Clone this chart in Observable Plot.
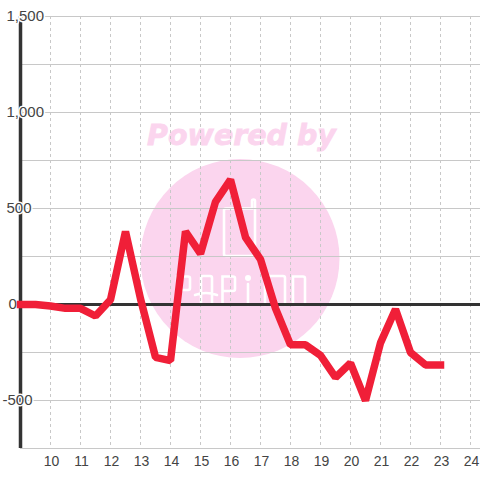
<!DOCTYPE html>
<html>
<head>
<meta charset="utf-8">
<style>html,body{margin:0;padding:0;background:#fff}svg{display:block}</style>
<script src="https://cdn.jsdelivr.net/npm/d3@7"></script>
<script src="https://cdn.jsdelivr.net/npm/@observablehq/plot@0.6"></script>
</head>
<body>
<script>
const hours = [9,9.5,10,10.5,11,11.5,12,12.5,13,13.5,14,14.5,15,15.5,16,16.5,17,17.5,18,18.5,19,19.5,20,20.5,21,21.5,22,22.5,23];
const values = [0,0,-8,-20,-20,-60,25,380,30,-275,-292,380,265,535,650,350,235,-20,-210,-210,-265,-380,-305,-500,-200,-25,-250,-315,-315];
const xTicks = [10,11,12,13,14,15,16,17,18,19,20,21,22,23,24];
const yGrid = [1500,1250,1000,750,500,250,-250,-500,-750];
const yLabels = [1500,1000,500,0,-500];
const series = hours.map((h,i)=>({h, v: values[i]}));
const fmt = d3.format(",");

function watermark() {
  const NS = "http://www.w3.org/2000/svg";
  const g = document.createElementNS(NS, "g");
  const add = (tag, attrs, text) => {
    const el = document.createElementNS(NS, tag);
    for (const k in attrs) el.setAttribute(k, attrs[k]);
    if (text) el.textContent = text;
    g.appendChild(el);
  };
  add("circle", {cx:240, cy:258.5, r:99.5, fill:"#fbd5ee"});
  add("text", {x:241.5, y:145, "text-anchor":"middle", fill:"#fbd5ee", stroke:"#fbd5ee", "stroke-width":0.8,
    "font-family":"DejaVu Sans", "font-weight":"bold", "font-style":"italic", "font-size":28.5}, "Powered by");
  add("path", {d:"M233 208.5H226a2 2 0 0 0 -2 2V254a2 2 0 0 0 2 2H253a2 2 0 0 0 2 -2V201a1.5 1.5 0 0 0 -3 0V208.5H233",
    fill:"none", stroke:"#fff", "stroke-width":2.6});
  // PAPiNO logotype, drawn as single-stroke letters
  add("path", {d:[
      "M177 304V276.5H188a2 2 0 0 1 2 2V288a2 2 0 0 1 -2 2H178",
      "M201 303V278a2 2 0 0 1 2 -2H210a2 2 0 0 1 2 2V303",
      "M195 295Q206 291 217 295",
      "M222.5 304V276.5H233a2 2 0 0 1 2 2V289a2 2 0 0 1 -2 2H223",
      "M248 284V305",
      "M265 305V278a2 2 0 0 1 2 -2H283a2 2 0 0 1 2 2V305",
      "M293 276.5H303a2 2 0 0 1 2 2V303a2 2 0 0 1 -2 2H295a2 2 0 0 1 -2 -2Z"
    ].join(""), fill:"none", stroke:"#fff", "stroke-width":2.6, "stroke-linecap":"round"});
  add("circle", {cx:248, cy:278, r:3, fill:"#fff"});
  return g;
}

const labelStyle = {textAnchor:"start", fontSize:15, fontFamily:"Liberation Sans", fill:"#444", stroke:"#fff", strokeWidth:3};

const chart = Plot.plot({
  width: 480,
  height: 480,
  marginLeft: 20,
  marginRight: 0,
  marginTop: 16,
  marginBottom: 32,
  x: {domain: [9, 24.3333], axis: null},
  y: {domain: [-750, 1500], axis: null},
  marks: [
    watermark,
    Plot.ruleY(yGrid, {stroke:"#c8c8c8", strokeWidth:1}),
    Plot.ruleX(xTicks, {stroke:"#c8c8c8", strokeWidth:1, strokeDasharray:"3,3"}),
    Plot.ruleY([0], {stroke:"#333", strokeWidth:3}),
    Plot.ruleX([9], {stroke:"#333", strokeWidth:3.5}),
    Plot.text(yLabels.filter(d=>d>0), {x:()=>9, y:d=>d, text:d=>fmt(d), dx:-14, ...labelStyle}),
    Plot.text(yLabels.filter(d=>d===0), {x:()=>9, y:d=>d, text:d=>fmt(d), dx:-12, ...labelStyle}),
    Plot.text(yLabels.filter(d=>d<0), {x:()=>9, y:d=>d, text:d=>String(d), dx:-18, ...labelStyle}),
    Plot.text(xTicks, {x:d=>d, y:()=>-750, text:d=>String(d), dx:1, dy:13, fontSize:14, fontFamily:"Liberation Sans", fill:"#444"}),
    Plot.line(series, {x:"h", y:"v", stroke:"#f01f38", strokeWidth:7.5, strokeLinejoin:"bevel", strokeLinecap:"square", curve:"linear"})
  ]
});
document.body.appendChild(chart);
</script>
</body>
</html>
